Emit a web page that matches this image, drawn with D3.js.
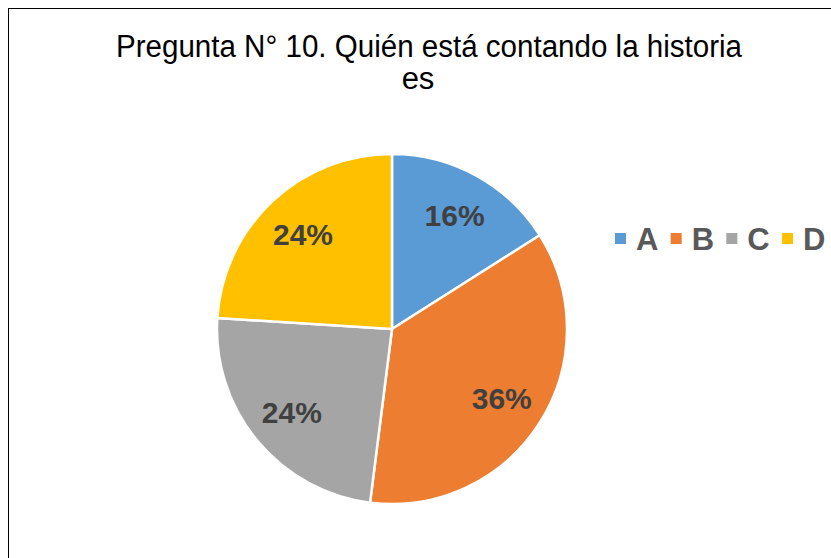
<!DOCTYPE html>
<html>
<head>
<meta charset="utf-8">
<script src="https://cdn.jsdelivr.net/npm/d3@7/dist/d3.min.js"></script>
<style>
  body { margin: 0; background: #fff; }
  svg { display: block; }
</style>
</head>
<body>
<div id="chart"></div>
<script>
const categories = ["A", "B", "C", "D"];
const values = [16, 36, 24, 24];
const labels = ["16%", "36%", "24%", "24%"];
const colors = ["#5B9BD5", "#ED7D31", "#A5A5A5", "#FFC000"];
const titleLines = ["Pregunta N° 10. Quién está contando la historia", "es"];

const width = 831, height = 558;
const cx = 392, cy = 329, radius = 175;

const svg = d3.select("#chart").append("svg")
    .attr("width", width)
    .attr("height", height);

// chart frame (runs off the right/bottom edge)
svg.append("rect")
    .attr("x", 8.5).attr("y", 8.5)
    .attr("width", width + 20).attr("height", height + 20)
    .attr("fill", "#fff")
    .attr("stroke", "#000")
    .attr("stroke-width", 1);

// title
svg.append("text")
    .attr("x", 116).attr("y", 57)
    .attr("textLength", 626)
    .attr("lengthAdjust", "spacingAndGlyphs")
    .attr("font-family", "Liberation Sans, Arial, sans-serif")
    .attr("font-size", 31)
    .attr("fill", "#000")
    .text(titleLines[0]);
svg.append("text")
    .attr("x", 418).attr("y", 89)
    .attr("text-anchor", "middle")
    .attr("font-family", "Liberation Sans, Arial, sans-serif")
    .attr("font-size", 31)
    .attr("fill", "#000")
    .text(titleLines[1]);

const data = categories.map((c, i) => ({cat: c, value: values[i], label: labels[i], color: colors[i]}));

const pie = d3.pie().value(d => d.value).sort(null);
const arc = d3.arc().innerRadius(0).outerRadius(radius);
const labelArc = d3.arc().innerRadius(130).outerRadius(130);

const pieG = svg.append("g").attr("transform", "translate(" + cx + "," + cy + ")");
const arcs = pie(data);

pieG.selectAll(".slice")
    .data(arcs)
    .join("path")
    .attr("class", "slice")
    .attr("d", arc)
    .attr("fill", d => d.data.color)
    .attr("stroke", "#fff")
    .attr("stroke-width", 2.5)
    .attr("stroke-linejoin", "round");

pieG.selectAll(".lbl")
    .data(arcs)
    .join("text")
    .attr("class", "lbl")
    .attr("transform", d => "translate(" + labelArc.centroid(d) + ")")
    .attr("text-anchor", "middle")
    .attr("dy", "0.36em")
    .attr("font-family", "Liberation Sans, Arial, sans-serif")
    .attr("font-weight", "bold")
    .attr("font-size", 30)
    .attr("fill", "#404040")
    .text(d => d.data.label);

// legend
const legendX = d3.scalePoint().domain(categories).range([615, 782]);
const legG = svg.append("g");
const items = legG.selectAll(".leg")
    .data(data)
    .join("g")
    .attr("class", "leg")
    .attr("transform", d => "translate(" + legendX(d.cat) + ",233)");
items.append("rect")
    .attr("width", 11).attr("height", 11)
    .attr("fill", d => d.color);
items.append("text")
    .attr("x", 21).attr("y", 17)
    .attr("font-family", "Liberation Sans, Arial, sans-serif")
    .attr("font-weight", "bold")
    .attr("font-size", 31)
    .attr("fill", "#595959")
    .text(d => d.cat);
</script>
</body>
</html>
